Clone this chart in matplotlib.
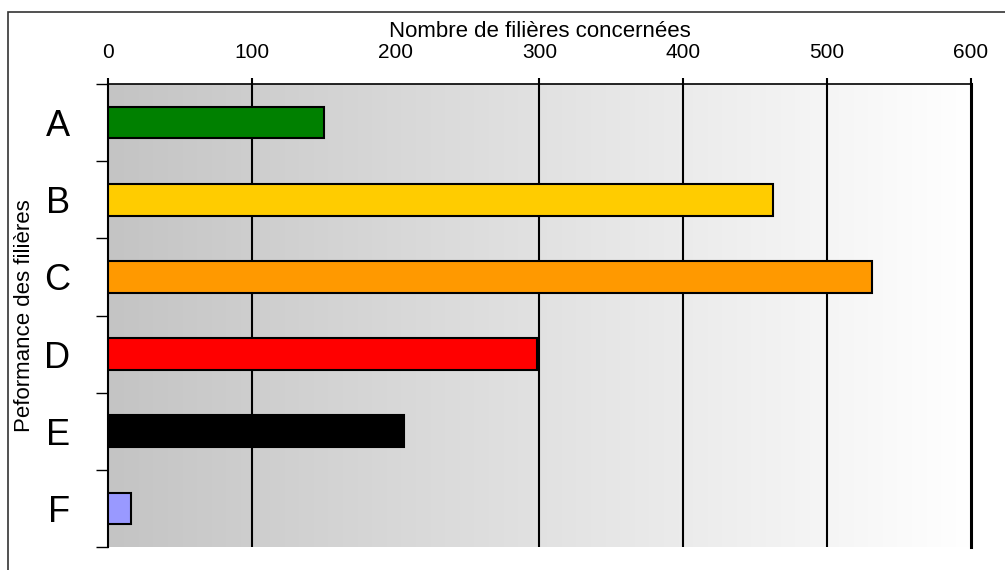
import numpy as np
import matplotlib.pyplot as plt
from matplotlib.patches import Rectangle

# Performance classes and number of sectors in each
categories = ['A', 'B', 'C', 'D', 'E', 'F']
counts = [150, 462, 531, 298, 206, 16]
bar_colors = ['#008000', '#ffcc00', '#ff9900', '#ff0000', '#000000', '#9999ff']
x_ticks = [0, 100, 200, 300, 400, 500, 600]
grid_lines = [100, 300, 400, 500]

plt.rcParams['font.family'] = ['Liberation Sans', 'DejaVu Sans']

fig = plt.figure(figsize=(10.05, 5.70), dpi=100)
ax = fig.add_axes([0.10746, 0.04035, 0.85871, 0.81228])

# Grey-to-white gradient behind the bars
shade = np.linspace(196, 255, 256) / 255
grad = np.repeat(shade[None, :, None], 3, axis=2)
ax.imshow(grad, aspect='auto', extent=[0, 600, 5.5, -0.5], zorder=0,
          interpolation='bilinear')

ypos = np.arange(len(categories))
ax.barh(ypos, counts, height=0.41, color=bar_colors, edgecolor='black',
        linewidth=1.5, zorder=3)

ax.set_xlim(0, 600)
ax.set_ylim(5.5, -0.5)

# x axis on top, with vertical grid lines
ax.xaxis.tick_top()
ax.xaxis.set_label_position('top')
ax.set_xticks(x_ticks)
ax.tick_params(axis='x', direction='out', length=4.5, width=1.5, pad=11,
               labelsize=15)
for tick, v in zip(ax.xaxis.get_major_ticks(), x_ticks):
    if v not in grid_lines and v not in (0, 600):
        tick.tick1line.set_visible(False)
        tick.tick2line.set_visible(False)
for v in grid_lines:
    ax.axvline(v, color='black', linewidth=1.5, zorder=2)
ax.set_xlabel('Nombre de filières concernées', fontsize=16, labelpad=5)

# y ticks on the class boundaries, labels in between
ax.set_yticks(np.arange(-0.5, 6, 1))
ax.set_yticklabels([])
ax.set_yticks(ypos, minor=True)
ax.set_yticklabels(categories, minor=True)
ax.tick_params(axis='y', which='major', direction='out', length=9, width=1)
ax.tick_params(axis='y', which='minor', length=0, pad=27, labelsize=26)
ax.set_ylabel('Peformance des filières', fontsize=16, labelpad=6)
ax.yaxis.set_label_coords(-0.085, 0.5)

ax.spines['bottom'].set_visible(False)
ax.spines['top'].set_linewidth(1.2)
ax.spines['left'].set_linewidth(1.5)
ax.spines['right'].set_linewidth(2.2)

# Frame around the chart area
fig.patches.append(Rectangle((8 / 1005, -0.1), 1.2, 1 - 12 / 570 + 0.1,
                             transform=fig.transFigure, fill=False,
                             edgecolor='#333333', linewidth=1.2))

fig.savefig('out.png', dpi=100)
